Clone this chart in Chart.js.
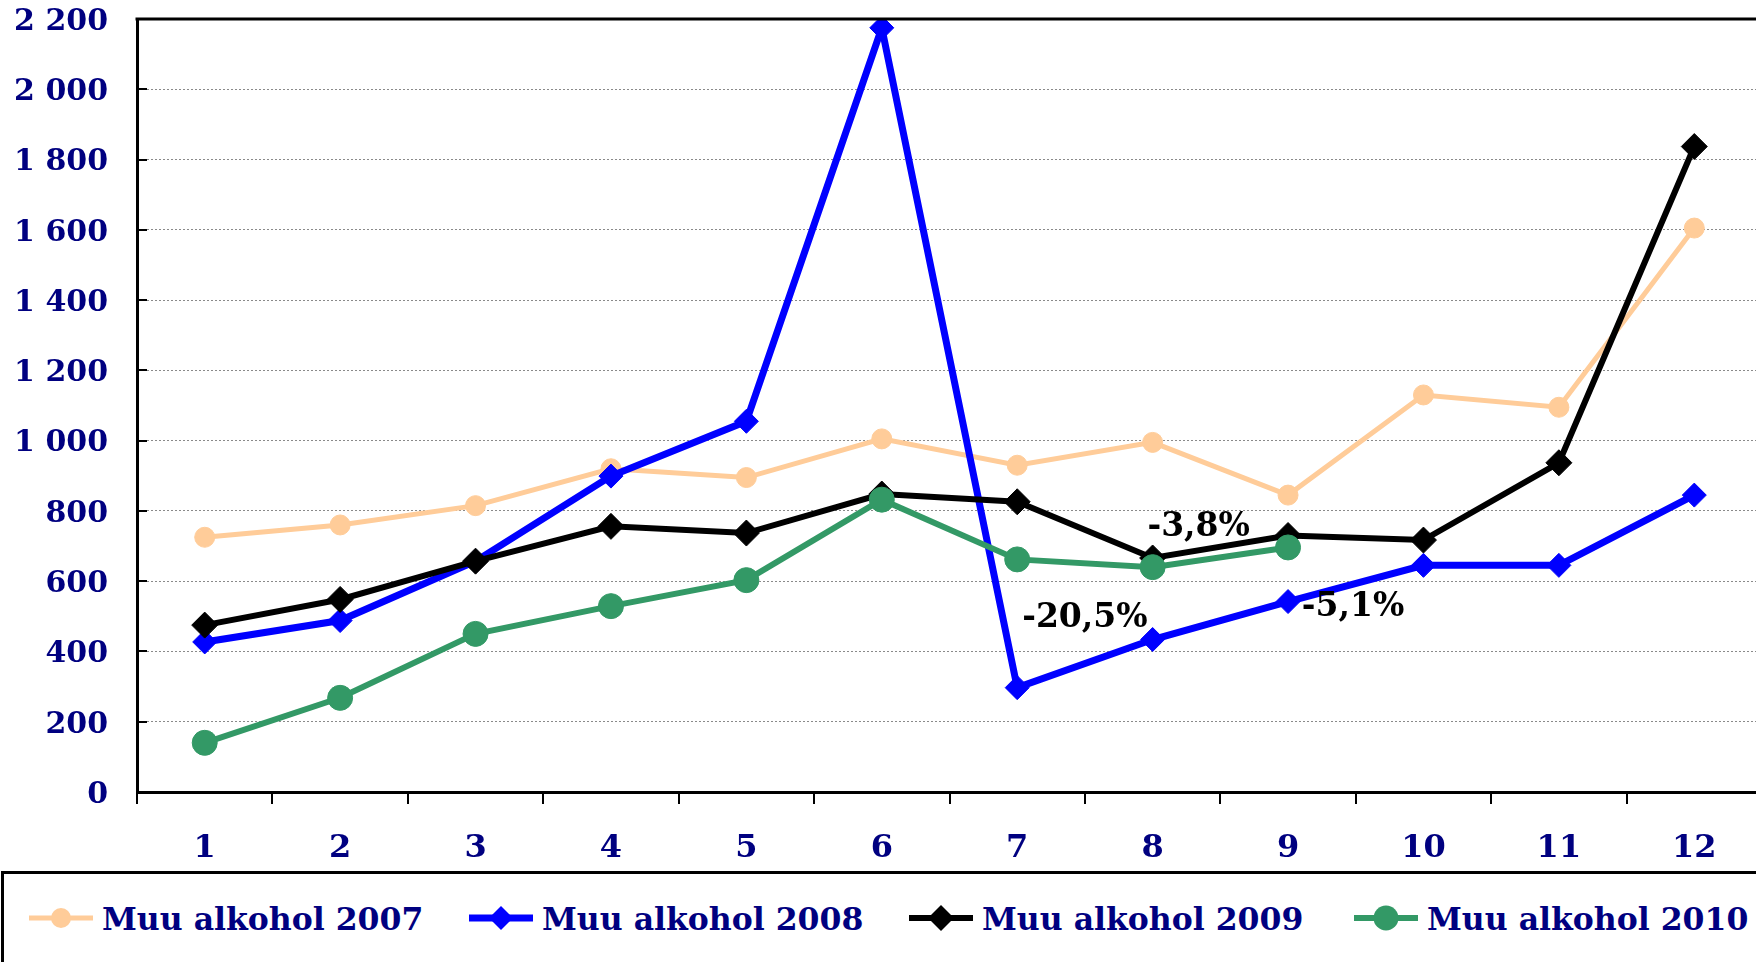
<!DOCTYPE html>
<html><head><meta charset="utf-8">
<script src="https://cdn.jsdelivr.net/npm/chart.js@4"></script>
<style>
html,body{margin:0;padding:0;background:#fff;overflow:hidden;width:1756px;height:962px;position:relative}
#wrap{position:absolute;left:0;top:0;width:1776px;height:871px}
#legend{position:absolute;left:1px;top:871px;width:1780px;height:100px;border:3px solid #000;box-sizing:border-box;background:#fff}
.item{position:absolute;top:0;height:88px;display:flex;align-items:center;font-family:"DejaVu Serif",serif;font-weight:bold;font-size:31.5px;color:#000080;white-space:nowrap}
.item svg{margin-right:9px}
</style></head>
<body>
<div id="wrap"><canvas id="c" width="1776" height="871"></canvas></div>
<div id="legend"></div>
<script>
const categories = ['1','2','3','4','5','6','7','8','9','10','11','12'];
const alk2007 = [725, 760, 815, 920, 895, 1005, 930, 995, 845, 1130, 1095, 1605];
const alk2008 = [427, 488, 657, 899, 1055, 2175, 297, 434, 542, 645, 645, 845];
const alk2009 = [475, 548, 657, 756, 737, 848, 826, 666, 730, 717, 937, 1837];
const alk2010 = [140, 268, 450, 529, 603, 832, 662, 640, 696];
const seriesNames = ['Muu alkohol 2007','Muu alkohol 2008','Muu alkohol 2009','Muu alkohol 2010'];
const yMin = 0, yMax = 2200, yStep = 200;
const noteTexts = ['-20,5%', '-3,8%', '-5,1%'];
const noteAnchors = [[6.5, 495], [7.34, 754], [8.48, 526]];

const NAVY = '#000080';
const FONT = '"DejaVu Serif", serif';
const colors = ['#FFCC99', '#0000FF', '#000000', '#339966'];
const styles = [
  {w:5, ps:'circle', r:10},
  {w:7, ps:'rectRot', r:12},
  {w:6, ps:'rectRot', r:13},
  {w:6, ps:'circle', r:12.5}
];
const allData = [alk2007, alk2008, alk2009, alk2010];

const datasets = allData.map((d, i) => ({
  label: seriesNames[i],
  data: d,
  borderColor: colors[i],
  backgroundColor: colors[i],
  borderWidth: styles[i].w,
  pointStyle: styles[i].ps,
  pointRadius: styles[i].r,
  pointHoverRadius: styles[i].r,
  pointBorderWidth: 1,
  pointBorderColor: colors[i],
  pointBackgroundColor: colors[i],
  tension: 0,
  order: 4 - i
}));

const fmt = v => String(v).replace(/\B(?=(\d{3})+(?!\d))/g, ' ');

const framePlugin = {
  id: 'frame',
  afterDraw(chart) {
    const {ctx, chartArea, scales} = chart;
    const y = scales.y;
    ctx.save();
    ctx.strokeStyle = '#000';
    ctx.lineWidth = 2;
    for (let v = yMin; v <= yMax; v += yStep) {
      const py = Math.round(y.getPixelForValue(v));
      ctx.beginPath();
      ctx.moveTo(chartArea.left, py);
      ctx.lineTo(chartArea.left + 10, py);
      ctx.stroke();
    }
    ctx.lineWidth = 3;
    ctx.beginPath();
    ctx.moveTo(chartArea.left - 1.5, chartArea.top);
    ctx.lineTo(chartArea.right, chartArea.top);
    ctx.stroke();
    ctx.restore();
  },
  afterDatasetsDraw(chart) {
    const {ctx, scales} = chart;
    ctx.save();
    ctx.fillStyle = '#000';
    ctx.font = 'bold 33px ' + FONT;
    ctx.textAlign = 'center';
    ctx.textBaseline = 'middle';
    noteTexts.forEach((t, i) => {
      const [xi, yv] = noteAnchors[i];
      ctx.fillText(t, scales.x.getPixelForValue(xi), scales.y.getPixelForValue(yv));
    });
    ctx.restore();
  }
};

new Chart(document.getElementById('c'), {
  type: 'line',
  data: { labels: categories, datasets },
  options: {
    responsive: false,
    animation: false,
    layout: { padding: { top: 19, left: 0, right: 0, bottom: 0 } },
    plugins: { legend: { display: false }, tooltip: { enabled: false } },
    scales: {
      x: {
        type: 'category',
        offset: true,
        grid: { offset: true, drawOnChartArea: false, drawTicks: true, tickLength: 12, color: '#000', lineWidth: 2 },
        border: { display: true, color: '#000', width: 3 },
        ticks: { color: NAVY, font: { family: FONT, size: 32, weight: 'bold' }, padding: 25, maxRotation: 0 },
        afterFit(s) { s.height = 79; s.paddingLeft = 0; s.paddingRight = 0; }
      },
      y: {
        min: yMin, max: yMax,
        grid: { color: '#8a8a8a', lineWidth: 1, drawTicks: false },
        border: { display: true, color: '#000', width: 3, dash: [2, 2] },
        ticks: { stepSize: yStep, color: NAVY, font: { family: FONT, size: 30, weight: 'bold' }, padding: 29, labelOffset: 3, callback: v => fmt(v) },
        afterFit(s) { s.width = 137; s.paddingTop = 0; s.paddingBottom = 0; }
      }
    }
  },
  plugins: [framePlugin]
});

// legend
const legendPos = [25, 465, 905, 1350];
const leg = document.getElementById('legend');
seriesNames.forEach((name, i) => {
  const it = document.createElement('div');
  it.className = 'item';
  it.style.left = legendPos[i] + 'px';
  const c = colors[i], st = styles[i];
  let marker;
  if (st.ps === 'circle') marker = `<circle cx="32" cy="20" r="${st.r}" fill="${c}"/>`;
  else marker = `<polygon points="32,${20-st.r} ${32+st.r},20 32,${20+st.r} ${32-st.r},20" fill="${c}"/>`;
  it.innerHTML = `<svg width="64" height="40"><line x1="0" y1="20" x2="64" y2="20" stroke="${c}" stroke-width="${st.w}"/>${marker}</svg><span>${name}</span>`;
  leg.appendChild(it);
});
</script>
</body></html>
